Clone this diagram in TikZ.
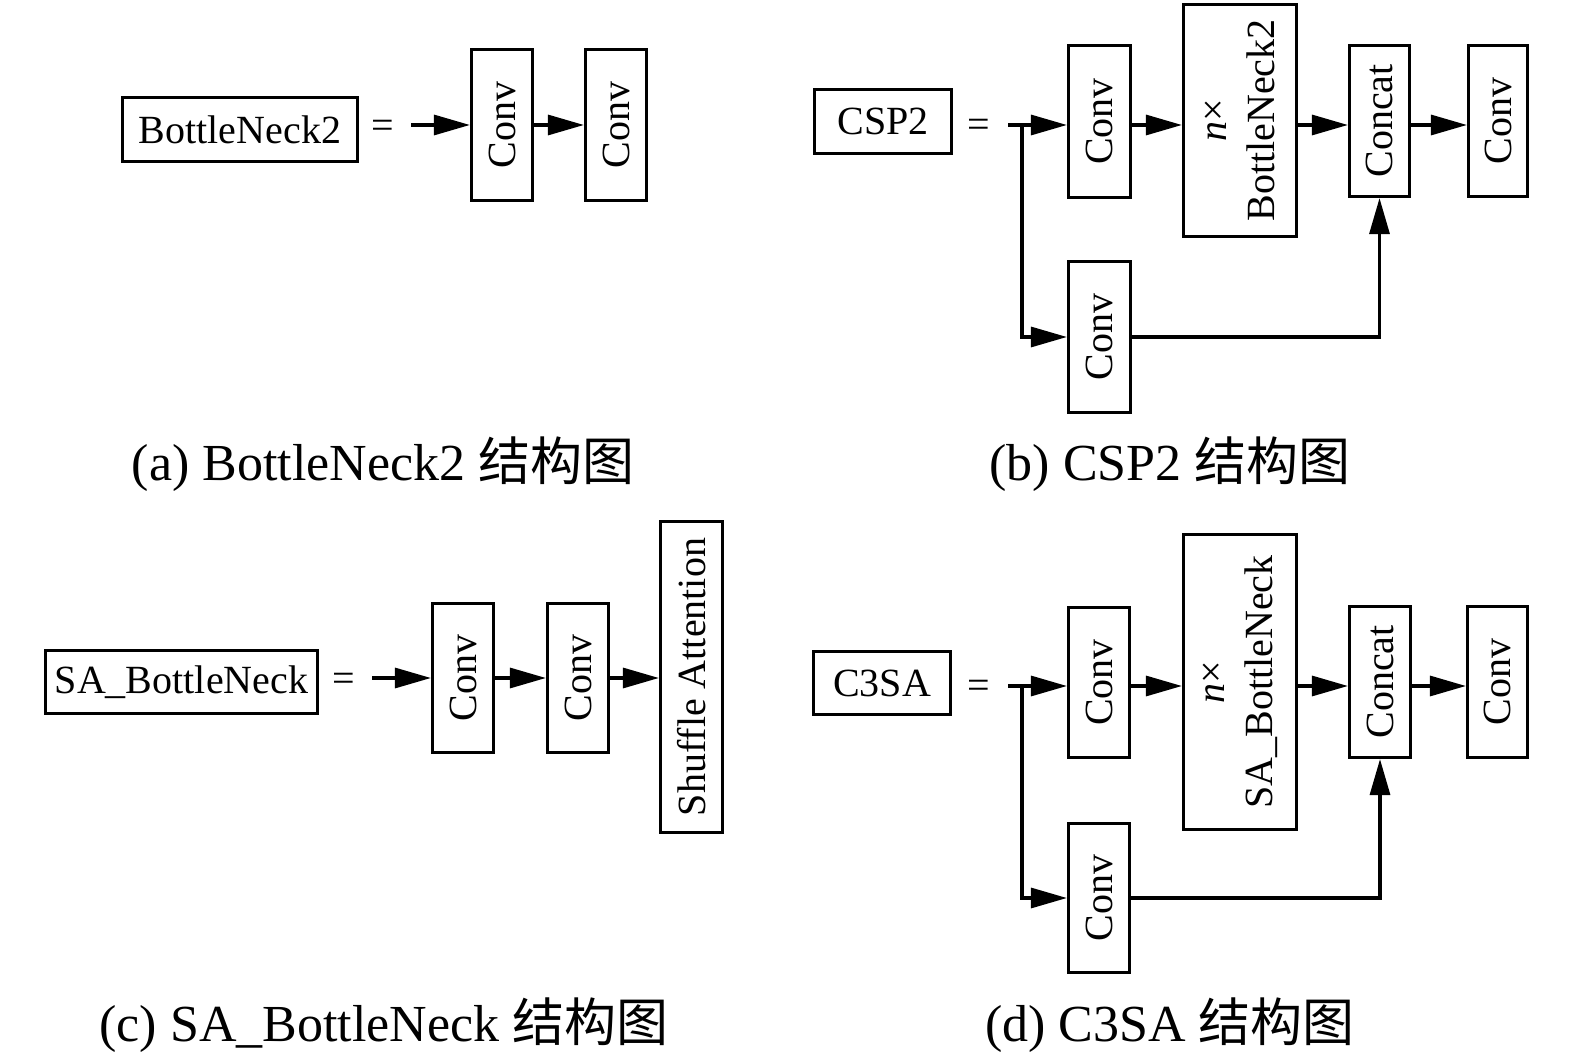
\documentclass[tikz,border=0pt]{standalone}
\usepackage{fontspec}
\setmainfont{Liberation Serif}
\newfontfamily\cjk{Noto Sans CJK SC}
\usetikzlibrary{arrows.meta}
\tikzset{
  lw/.style={line width=1.6pt},
  hbox/.style={draw, lw, inner sep=0pt, font=\fontsize{20}{24}\selectfont},
  vbox/.style={draw, lw, inner sep=0pt, rotate=90, align=center, font=\fontsize{20}{24}\selectfont},
  eqsign/.style={inner sep=0pt, font=\fontsize{20}{24}\selectfont},
  captext/.style={inner sep=0pt, font=\fontsize{26}{30}\selectfont},
  arr/.style={lw, -{Triangle[length=18pt,width=10pt]}},
}
% note: for rotate=90 nodes, .north = left side, .south = right side, .west = bottom
\begin{document}
\begin{tikzpicture}[x=0.5pt,y=-0.5pt]
\useasboundingbox (0,0) rectangle (1575,1063);
% ---------- (a)
\node[hbox, minimum width=117.5pt, minimum height=32pt] (bn2) at (240,129.5) {BottleNeck2};
\node[eqsign] (eqa) at (383,129) {=};
\coordinate (sa) at (411,125);
\node[vbox, minimum width=75.5pt, minimum height=30.5pt] (c1a) at (502,125) {Conv};
\node[vbox, minimum width=75.5pt, minimum height=30.5pt] (c2a) at (616,125) {Conv};
\draw[arr] (sa) -- (sa -| c1a.north);
\draw[arr] (c1a.south) -- (c2a.north);
\node[captext] (capa) at (383,464) {(a) BottleNeck2 {\cjk 结构图}};
% ---------- (b)
\node[hbox, minimum width=68.5pt, minimum height=32pt] (csp) at (883,121.5) {CSP2};
\node[eqsign] (eqb) at (979,128) {=};
\coordinate (sb) at (1008,125);
\coordinate (brb) at (1022,125);
\node[vbox, minimum width=76pt, minimum height=31pt] (c1b) at (1099.5,121.5) {Conv};
\node[vbox, minimum width=116pt, minimum height=56.5pt] (nbb) at (1240,120.5) {\textit{n}×\\BottleNeck2};
\node[vbox, minimum width=75.5pt, minimum height=30pt] (catb) at (1379.5,121) {Concat};
\node[vbox, minimum width=75.5pt, minimum height=29.5pt] (c3b) at (1498,121) {Conv};
\node[vbox, minimum width=75.5pt, minimum height=31pt] (c4b) at (1099.5,337) {Conv};
\draw[arr] (sb) -- (sb -| c1b.north);
\draw[arr] (brb) |- (c4b.north);
\draw[arr] (sb -| c1b.south) -- (sb -| nbb.north);
\draw[arr] (sb -| nbb.south) -- (sb -| catb.north);
\draw[arr] (sb -| catb.south) -- (sb -| c3b.north);
\draw[arr] (c4b.south) -| (catb.west);
\node[captext] (capb) at (1170,464) {(b) CSP2 {\cjk 结构图}};
% ---------- (c)
\node[hbox, minimum width=136pt, minimum height=31.5pt] (sab) at (181.5,682) {SA\_BottleNeck};
\node[eqsign] (eqc) at (344,682) {=};
\coordinate (sc) at (372,678);
\node[vbox, minimum width=74.5pt, minimum height=30.5pt] (c1c) at (463,678) {Conv};
\node[vbox, minimum width=74.5pt, minimum height=30.5pt] (c2c) at (578,678) {Conv};
\node[vbox, minimum width=155.5pt, minimum height=31pt] (shc) at (691.5,677) {Shuffle Attention};
\draw[arr] (sc) -- (sc -| c1c.north);
\draw[arr] (c1c.south) -- (c2c.north);
\draw[arr] (c2c.south) -- (c2c.south -| shc.north);
\node[captext] (capc) at (384,1025) {(c) SA\_BottleNeck {\cjk 结构图}};
% ---------- (d)
\node[hbox, minimum width=68.5pt, minimum height=31.5pt] (c3sa) at (882,683) {C3SA};
\node[eqsign] (eqd) at (979,689) {=};
\coordinate (sd) at (1008,686);
\coordinate (brd) at (1022,686);
\node[vbox, minimum width=75pt, minimum height=30.5pt] (c1d) at (1099,682.5) {Conv};
\node[vbox, minimum width=147.5pt, minimum height=56.5pt] (nbd) at (1240,682) {\textit{n}×\\SA\_BottleNeck};
\node[vbox, minimum width=75.5pt, minimum height=30.5pt] (catd) at (1380,682) {Concat};
\node[vbox, minimum width=75.5pt, minimum height=30pt] (c3d) at (1497.5,682) {Conv};
\node[vbox, minimum width=74.5pt, minimum height=30.5pt] (c4d) at (1099,898) {Conv};
\draw[arr] (sd) -- (sd -| c1d.north);
\draw[arr] (brd) |- (c4d.north);
\draw[arr] (sd -| c1d.south) -- (sd -| nbd.north);
\draw[arr] (sd -| nbd.south) -- (sd -| catd.north);
\draw[arr] (sd -| catd.south) -- (sd -| c3d.north);
\draw[arr] (c4d.south) -| (catd.west);
\node[captext] (capd) at (1170,1025) {(d) C3SA {\cjk 结构图}};
\end{tikzpicture}
\end{document}
